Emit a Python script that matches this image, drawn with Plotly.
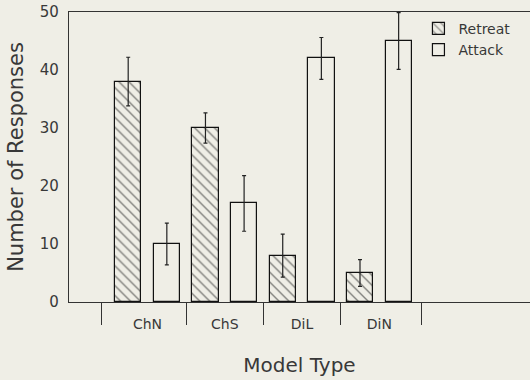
import plotly.graph_objects as go

categories = ["ChN", "ChS", "DiL", "DiN"]
retreat = [38, 30, 8, 5]
retreat_err = [4.2, 2.6, 3.7, 2.3]
attack = [10, 17, 42, 45]
attack_err = [3.6, 4.8, 3.6, 4.9]
y_ticks = [0, 10, 20, 30, 40, 50]
separators = [-0.59, 0.5, 1.5, 2.5, 3.54]

bg = "#efeee6"
font = "DejaVu Sans"
xpos = list(range(len(categories)))

fig = go.Figure()
fig.add_trace(go.Bar(
    x=xpos, y=retreat, name="Retreat", width=0.34, offset=-0.42,
    marker=dict(color=bg, line=dict(color="#111", width=1.2),
                pattern=dict(shape="\\", fgcolor="#111", bgcolor=bg, size=7, solidity=0.2)),
    error_y=dict(type="data", array=retreat_err, color="#222", thickness=1.2, width=2),
))
fig.add_trace(go.Bar(
    x=xpos, y=attack, name="Attack", width=0.34, offset=0.08,
    marker=dict(color=bg, line=dict(color="#111", width=1.2)),
    error_y=dict(type="data", array=attack_err, color="#222", thickness=1.2, width=2),
))

fig.update_layout(
    width=530, height=380,
    margin=dict(l=69, r=0, t=12, b=78),
    paper_bgcolor=bg, plot_bgcolor=bg,
    font=dict(family=font, color="#383838", size=14),
    showlegend=True,
    legend=dict(x=0.758, y=0.997, xanchor="left", yanchor="top", bgcolor="rgba(0,0,0,0)",
                font=dict(size=14), itemwidth=30, tracegroupgap=2),
    bargap=0, barmode="overlay",
)
fig.update_xaxes(
    range=[-1.016, 4.95], tickvals=xpos, ticktext=categories, ticks="",
    ticklabelstandoff=9, showgrid=False, zeroline=False,
    showline=True, linecolor="#333", linewidth=1.2, mirror=True,
    tickfont=dict(size=14),
    minor=dict(tickvals=separators, ticks="outside", ticklen=22, tickcolor="#333", tickwidth=1.2, showgrid=False),
    title=dict(text="Model Type", font=dict(size=20), standoff=27),
)
fig.update_yaxes(
    range=[0, 50], tickvals=y_ticks, ticks="", showgrid=False, zeroline=False,
    showline=True, linecolor="#333", linewidth=1.2, tickfont=dict(size=15),
    ticklabelstandoff=6, ticklabeloverflow="allow",
    title=dict(text="Number of Responses", font=dict(size=21), standoff=10),
)
fig.write_html(
    "out.html",
    config={"displayModeBar": False},
    post_script="document.body.style.margin='0';document.body.style.background='%s';" % bg,
)
